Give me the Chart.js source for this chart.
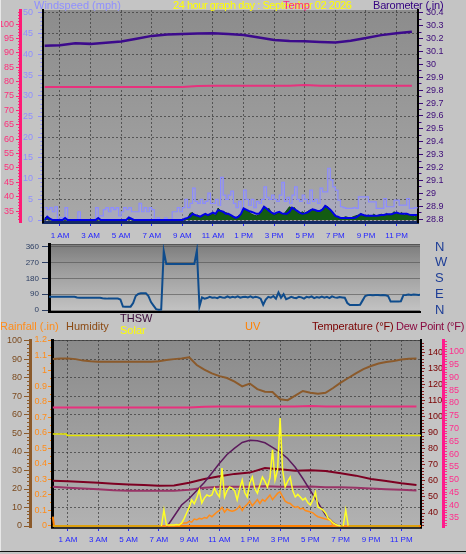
<!DOCTYPE html>
<html>
<head>
<meta charset="utf-8">
<script src="https://cdn.jsdelivr.net/npm/chart.js@4.4.1/dist/chart.umd.min.js"></script>
<style>
  body { margin: 0; background: #c4c4c4; }
  #wrap { position: relative; width: 466px; height: 554px; overflow: hidden; background: #c4c4c4;
          font-family: 'Liberation Sans', Arial, sans-serif; }
  canvas { position: absolute; left: 0; }
  .t { position: absolute; font-size: 11px; line-height: 11px; white-space: nowrap; }
</style>
</head>
<body>
<div id="wrap">
  <canvas id="topChart" width="466" height="246" style="top:0"></canvas>
  <canvas id="dirChart" width="466" height="76" style="top:240px"></canvas>
  <canvas id="botChart" width="466" height="238" style="top:316px"></canvas>

  <div class="t" style="left:34px;top:0;color:#8f8fff">Windspeed (mph)</div>
  <div class="t" style="left:173px;top:0;color:#ffff00;letter-spacing:-0.45px">24 hour graph day : September 02 2026</div>
  <div class="t" style="left:283px;top:0;color:#ff2288">Temp</div>
  <div class="t" style="left:373px;top:0;color:#330080;letter-spacing:-0.2px">Barometer (.in)</div>

  <div class="t" style="left:0;top:321px;color:#ff8c1a">Rainfall (.in)</div>
  <div class="t" style="left:66px;top:321px;color:#8b4a13">Humidity</div>
  <div class="t" style="left:120px;top:313px;color:#3a0a3a">THSW</div>
  <div class="t" style="left:120px;top:325px;color:#ffff00">Solar</div>
  <div class="t" style="left:245px;top:321px;color:#ff8000">UV</div>
  <div class="t" style="left:312px;top:321px;color:#7a0000;letter-spacing:-0.1px">Temperature (°F)</div>
  <div class="t" style="left:396px;top:321px;color:#8a0a40;letter-spacing:-0.25px">Dew Point (°F)</div>

  <div style="position:absolute;left:0;top:0;width:1px;height:552px;background:#e8e8e8"></div>
  <div style="position:absolute;left:0;top:551px;width:466px;height:1px;background:#101010"></div>
</div>

<script>
// ---- x axis (hours of the day) ----
const hourTicks = [1, 3, 5, 7, 9, 11, 13, 15, 17, 19, 21, 23];
const hourLabels = ['1 AM', '3 AM', '5 AM', '7 AM', '9 AM', '11 AM', '1 PM', '3 PM', '5 PM', '7 PM', '9 PM', '11 PM'];

// ---- tick labels ----
const pinkTicks = [35, 40, 45, 50, 55, 60, 65, 70, 75, 80, 85, 90, 95, 100];
const windTicks = [0, 5, 10, 15, 20, 25, 30, 35, 40, 45, 50];
const baroTicks = [28.8, 28.9, 29, 29.1, 29.2, 29.3, 29.4, 29.5, 29.6, 29.7, 29.8, 29.9, 30, 30.1, 30.2, 30.3, 30.4];
const dirTicks = [0, 90, 180, 270, 360];
const dirLabels = ['N', 'E', 'S', 'W', 'N'];
const humTicks = [0, 10, 20, 30, 40, 50, 60, 70, 80, 90, 100];
const rainTicks = [0, 0.1, 0.2, 0.3, 0.4, 0.5, 0.6, 0.7, 0.8, 0.9, 1, 1.1, 1.2];
const tempTicks = [40, 50, 60, 70, 80, 90, 100, 110, 120, 130, 140];
const dewTicks = [35, 40, 45, 50, 55, 60, 65, 70, 75, 80, 85, 90, 95, 100];

// ---- hourly series (0h .. 24h) ----
const barometer = [30.145, 30.150, 30.165, 30.160, 30.168, 30.178, 30.200, 30.222, 30.233, 30.237, 30.240, 30.243,
                   30.236, 30.228, 30.210, 30.190, 30.182, 30.180, 30.175, 30.170, 30.185, 30.205, 30.228, 30.242, 30.255];
const insideTemp = [78.15, 78.15, 78.15, 78.15, 78.15, 78.15, 78.15, 78.15, 78.15, 78.15, 78.5, 78.55, 78.55,
                    78.55, 78.55, 78.55, 78.55, 78.8, 78.55, 78.55, 78.55, 78.55, 78.55, 78.55, 78.55];
const temperature = [60.1, 59.8, 59.3, 58.8, 58.3, 57.8, 57.4, 57.0, 57.2, 58.9, 61.2, 62.9, 64.4,
                     65.2, 68.0, 67.3, 66.4, 66.6, 66.2, 64.8, 63.3, 61.2, 59.9, 58.5, 57.5];
const dewPoint = [47.2, 46.8, 46.5, 46.2, 45.8, 45.6, 45.6, 45.6, 45.6, 46.0, 46.8, 47.2, 47.2,
                  47.2, 47.4, 47.2, 47.2, 47.3, 47.0, 47.0, 46.8, 46.5, 46.2, 46.0, 45.7];

// ---- half-hourly series (0h .. 24h) ----
const humidity = [90.3, 90.5, 90.6, 90.2, 89.4, 89.0, 88.8, 88.8, 88.8, 88.8, 88.8, 88.8, 88.8, 88.8,
                  89.0, 89.7, 90.2, 90.6, 91.2, 87.0, 84.5, 82.5, 81.0, 80.0, 78.0, 75.5, 77.0, 74.0,
                  72.6, 72.4, 68.5, 68.0, 70.5, 73.0, 72.0, 71.5, 72.0, 74.6, 77.5, 80.0, 82.5, 84.8,
                  86.5, 87.8, 88.6, 89.2, 90.0, 90.4, 90.6];
const thsw = [null, null, null, null, null, null, null, null, null, null, null, null, null, null,
              26, 31, 38, 45, 49, 54, 59, 65, 71, 76.5, 80.5, 84, 85.3, 85, 83.8, 81, 78, 74,
              68.5, 61.5, 54, 46.5, 38.8, 34, 31, 27,
              null, null, null, null, null, null, null, null, null];

// ---- 10 minute series (six values per hour) ----
const windGust = [
  3, 2.5, 3, 2, 3.2, 0,        0.5, 0.5, 3, 0, 0, 0,        0, 2, 0, 0, 0, 0,            0, 0, 3, 1, 1, 2.5,
  3, 2, 3, 2.5, 3, 1,          2, 3, 2.5, 3, 2, 2,          2, 4, 2, 3, 2, 3,            2.5, 0, 0.5, 0, 0, 0.5,
  0, 0, 2, 2, 3, 2,            3, 5, 3, 4, 7.7, 4.5,        4, 5, 4, 4.5, 6.5, 4,        4, 5, 3.5, 10.3, 6, 5,
  6, 7, 4, 3, 4.5, 2.5,        7.2, 5, 3.5, 5, 3, 4.5,      4, 5, 8, 5.5, 5, 6,          5, 4.5, 6, 9.1, 4.5, 5.5,
  4, 6, 8, 5, 4.5, 6,          5, 4, 7.2, 4.5, 5, 4,        7.7, 6.8, 6.8, 12.5, 9.7, 8, 7.2, 4.8, 3.2, 3, 2.8, 2.8,
  2.8, 3, 2.8, 5.6, 5.6, 5.6,  5.6, 4.4, 4.4, 4.4, 2.8, 2.8, 2.8, 5.2, 3.2, 3.2, 3.2, 4.8, 4.8, 3.6, 3.6, 3.6, 5.2, 2.8,
  2.8, 3, 2.8
];
const windAvg = [
  0, 0.8, 0.3, 0, 0, 0,        0, 0, 0.5, 0, 0, 0,          0, 0, 0, 0, 0, 0,            0, 0, 0, 0.5, 0, 0,
  0, 0, 0, 0, 0, 0,            0, 0, 0, 0.6, 0.3, 0,        0, 0, 0, 0, 0, 0,            0, 0, 0, 0, 0, 0,
  0, 0, 0, 0, 0, 0,            0, 0.3, 0.5, 0.8, 1.5, 1.2,  1, 0.8, 1.2, 1.5, 1.2, 1.5,  1.8, 1.5, 2.4, 2.2, 2, 1.5,
  1.5, 1.2, 0.8, 0.5, 0.8, 1.5, 2.8, 2.5, 2.2, 2, 1.8, 1.5,  1.5, 2.2, 3.2, 2.8, 2.2, 1.8, 1.5, 1.8, 2, 1.6, 1.5, 1.5,
  2, 3, 2.6, 2.2, 1.8, 1.5,    1.6, 1.8, 2.2, 2.6, 2.4, 2.2, 2.2, 2.6, 3.4, 3, 2.5, 1.8, 1, 0.8, 0.5, 0.5, 0.5, 0.5,
  0.5, 0.5, 0.6, 1, 1.4, 1.2,  1, 1, 1, 1, 1, 1.1,          1.2, 1.2, 1.4, 1.4, 1.4, 1.6, 1.8, 1.6, 1.5, 1.5, 1.5, 1.3,
  1.2, 1.2, 1.2
];
const windSpeed = [
  0.5, 0.8, 0, 0, 0, 0,        0, 0, 0, 0, 0, 0,            0, 0, 0, 0, 0, 0,            0, 0, 0, 0, 0, 0,
  0, 0, 0, 0, 0, 0,            0, 0, 0, 0.4, 0, 0,          0, 0, 0, 0, 0, 0,            0, 0, 0, 0, 0, 0,
  0, 0, 0, 0, 0, 0,            0, 0, 0.3, 1.6, 1.8, 1,      1.2, 0.8, 1, 1.4, 1, 1.2,    1.6, 1, 2.9, 2.2, 2, 1.8,
  1.5, 1, 0.6, 0.5, 1, 1.2,    2.8, 2.4, 2, 1.5, 1.2, 1,    1.2, 2, 3, 2.5, 2.8, 1.6,    1.2, 1.5, 1.8, 1.4, 1.6, 2.4,
  3.2, 2.8, 3, 1.8, 1.5, 2,    1.6, 2, 2.4, 2.6, 2.3, 2,    2.2, 2.8, 3.4, 3.2, 2.4, 1.6, 1, 0.6, 0.4, 0.5, 0.8, 0.6,
  0.5, 0.8, 1, 1.2, 1.6, 1,    1, 1.2, 0.8, 1.4, 1, 1.2,    1.4, 1, 1.6, 1.2, 1.4, 2,    1.6, 1.4, 1.8, 1.2, 1.5, 1.2,
  1, 0.8, 1
];
const windDir = [
  76, 76, 76, 76, 76, 76,      76, 76, 76, 76, 76, 72,      70, 70, 70, 70, 70, 70,      70, 70, 70, 67, 66, 65,
  65, 65, 65, 65, 60, 20,      19, 19, 19, 40, 80, 92,      95, 95, 95, 80, 45, 25,      5, 2, 3, 337, 263, 263,
  263, 263, 263, 263, 263, 263, 263, 263, 263, 263, 340, 20, 72, 65, 68, 75, 70, 72,     68, 75, 72, 70, 78, 70,
  75, 72, 78, 70, 74, 76,      72, 78, 70, 76, 72, 65,      30, 60, 75, 70, 80, 65,      100, 70, 90, 62, 68, 75,
  70, 68, 76, 72, 65, 75,      72, 78, 68, 74, 70, 76,      70, 75, 68, 78, 72, 70,      74, 72, 70, 40, 28, 28,
  28, 28, 30, 55, 80, 85,      86, 84, 86, 85, 84, 86,      84, 80, 48, 48, 48, 48,      50, 85, 86, 88, 86, 88,
  87, 86, 88
];
const solar = [
  0, 0, 0, 0, 0, 0,  0, 0, 0, 0, 0, 0,  0, 0, 0, 0, 0, 0,  0, 0, 0, 0, 0, 0,  0, 0, 0, 0, 0, 0,  0, 0, 0, 0, 0, 0,
  0, 0, 0, 0, 0, 0,
  0, 0, 86, 5, 5, 5,            5, 8, 5, 15, 40, 70,          100, 140, 120, 150, 194, 124,  150, 167, 160, 167, 204, 175,
  156, 312, 156, 190, 210, 204, 190, 140, 200, 247, 180, 156, 230, 263, 200, 177, 220, 263,  240, 210, 260, 409, 247, 300,
  580, 301, 210, 240, 263, 190, 156, 170, 156, 140, 150, 125, 113, 140, 183, 102, 95, 86,    70, 43, 30, 16, 8, 3,
  0, 0, 86, 0, 0, 0,
  0, 0, 0, 0, 0, 0,  0, 0, 0, 0, 0, 0,  0, 0, 0, 0, 0, 0,  0, 0, 0, 0, 0, 0,  0, 0
];
const uvIndex = [
  0, 0, 0, 0, 0, 0,  0, 0, 0, 0, 0, 0,  0, 0, 0, 0, 0, 0,  0, 0, 0, 0, 0, 0,  0, 0, 0, 0, 0, 0,  0, 0, 0, 0, 0, 0,
  0, 0, 0, 0, 0, 0,  0, 0, 0, 0, 0, 0,
  0, 0.05, 0.1, 0.15, 0.2, 0.2,  0.3, 0.25, 0.45, 0.4, 0.5, 0.45,  0.55, 0.5, 0.7, 0.6, 0.75, 0.9,
  1.0, 1.2, 0.9, 1.1, 1.0, 0.95,  1.0, 1.1, 1.3, 1.0, 1.25, 1.4,   1.6, 1.3, 1.5, 1.7, 1.45, 1.7,
  1.6, 1.8, 2.0, 1.7, 1.9, 2.1,   2.2, 1.9, 1.6, 1.5, 1.45, 1.3,   1.2, 1.25, 1.1, 1.15, 1.0, 0.95,
  0.9, 0.85, 0.7, 0.6, 0.55, 0.5, 0.45, 0.4, 0.38, 0, 0, 0,
  0, 0, 0, 0, 0, 0,  0, 0, 0, 0, 0, 0,  0, 0, 0, 0, 0, 0,  0, 0, 0, 0, 0, 0,  0, 0, 0, 0, 0, 0,  0, 0
];

// ---- irregular series (hour, value) ----
const rainHours = [0, 0.08, 24.3];
const rainfall = [0.06, 0, 0];
const yellowHours = [0, 0.9, 0.95, 24.3];
const yellowLine = [89.2, 89.2, 88.3, 88.3];

// ---------------------------------------------------------------
const FONT = "'Liberation Sans', Arial, sans-serif";
const GRID = 'rgba(55,55,55,0.7)';
const near = (a, b) => Math.abs(a - b) < 1e-6;
const isIn = (list, v) => list.some(m => near(m, v));

function everyStep(from, to, step) {
  const out = [];
  for (let v = from; v <= to + 1e-9; v += step) out.push({ value: Math.round(v * 1000) / 1000 });
  return out;
}
const series = (values, stepH) => values.map((v, i) => ({ x: i * stepH, y: v }));
const pairs = (hours, values) => hours.map((h, i) => ({ x: h, y: values[i] }));

function yAxis(o) {
  const left = o.position === 'left';
  return {
    type: 'linear', position: o.position, weight: o.weight, min: o.min, max: o.max,
    afterBuildTicks: s => {
      s.ticks = o.minor ? everyStep(o.minor[0], o.minor[1], o.minor[2]) : o.major.map(v => ({ value: v }));
    },
    afterFit: s => { s.width = o.width; s.paddingTop = 0; s.paddingBottom = 0; },
    ticks: {
      color: o.color, padding: o.pad, autoSkip: false,
      font: { family: FONT, size: o.size || 9 },
      callback: v => {
        const i = o.major.findIndex(m => near(m, v));
        return i < 0 ? '' : (o.labels ? o.labels[i] : String(o.major[i]));
      }
    },
    grid: {
      drawOnChartArea: !!o.grid,
      drawTicks: o.tickLen > 0,
      tickLength: o.tickLen || 0,
      tickColor: o.tickColor || o.color,
      color: c => (o.grid && c.tick && isIn(o.major, c.tick.value)) ? o.grid : 'rgba(0,0,0,0)',
      tickBorderDash: c => (c.tick && isIn(o.major, c.tick.value)) ? [] :
        (left ? [0, o.tickLen * 0.5, 50] : [o.tickLen * 0.5, 50])
    },
    border: { display: !!o.border, color: o.border, width: o.borderWidth || 1, dash: o.dash || [] }
  };
}

function xAxis(o) {
  return {
    type: 'linear', position: 'bottom', min: o.min, max: o.max,
    afterBuildTicks: s => { s.ticks = hourTicks.map(v => ({ value: v })); },
    afterFit: s => { s.height = o.height; s.paddingLeft = 0; s.paddingRight = 0; },
    ticks: {
      display: o.labels, color: '#2424ff', padding: o.pad || 4, maxRotation: 0, autoSkip: false,
      font: { family: FONT, size: 8 },
      callback: (v, i) => hourLabels[i]
    },
    grid: { drawOnChartArea: o.grid, drawTicks: o.labels, color: GRID, tickColor: '#2424ff', tickLength: 4 },
    border: { color: o.borderColor, width: o.borderWidth, dash: [2, 2] }
  };
}

function plotBackground(stops, edge) {
  return {
    id: 'plotBg',
    beforeDraw(chart) {
      const { ctx, chartArea: a } = chart;
      const g = ctx.createLinearGradient(0, a.top, 0, a.bottom);
      stops.forEach(([p, c]) => g.addColorStop(p, c));
      ctx.save();
      ctx.fillStyle = g;
      ctx.fillRect(a.left, a.top, a.right - a.left, a.bottom - a.top);
      if (edge) { ctx.fillStyle = edge; ctx.fillRect(a.left, a.top, a.right - a.left, 1); }
      ctx.restore();
    }
  };
}

const common = {
  responsive: false, animation: false, events: [],
  elements: { point: { radius: 0 }, line: { tension: 0 } },
  plugins: { legend: { display: false }, tooltip: { enabled: false } }
};

// ---------------- top panel: wind speed, barometer ----------------
new Chart(document.getElementById('topChart'), {
  type: 'line',
  data: {
    datasets: [
      { data: series(barometer, 1), yAxisID: 'yBaro', borderColor: '#3c0a8c', borderWidth: 2.5 },
      { data: series(insideTemp, 1), yAxisID: 'yPink', borderColor: '#e8317d', borderWidth: 2 },
      { data: series(windAvg, 1 / 6), yAxisID: 'yWind', borderColor: '#0000e6', borderWidth: 2 },
      { data: series(windSpeed, 1 / 6), yAxisID: 'yWind', borderColor: '#0c4a0c', backgroundColor: '#135c13',
        fill: 'origin', borderWidth: 1 },
      { data: series(windGust, 1 / 6), yAxisID: 'yWind', borderColor: '#8c8cff', backgroundColor: 'rgba(175,175,235,0.3)',
        fill: 'origin', borderWidth: 1.2, stepped: true }
    ]
  },
  options: {
    ...common,
    layout: { padding: { top: 10, left: 0, right: 0, bottom: 0 } },
    scales: {
      x: xAxis({ min: -0.11, max: 24.4, height: 24, labels: true, grid: true, pad: 5,
                 borderColor: '#142a66', borderWidth: 3 }),
      yPink: yAxis({ position: 'left', weight: 2, width: 20, min: 31.2, max: 104.9, major: pinkTicks,
                     minor: [32, 104, 1], color: '#ff2d7a', tickLen: 4, pad: 2, border: '#ff1a75', borderWidth: 3 }),
      yWind: yAxis({ position: 'left', weight: 1, width: 23, min: -0.48, max: 50.72, major: windTicks,
                     minor: [0, 50, 1], color: '#8f8fff', tickLen: 5, pad: 5, border: '#000000', borderWidth: 2,
                     grid: GRID, dash: [2, 2] }),
      yBaro: yAxis({ position: 'right', weight: 1, width: 48, min: 28.777, max: 30.423, major: baroTicks,
                     minor: [28.8, 30.4, 0.05], color: '#3c0a78', tickLen: 5, pad: 3, border: '#000000', borderWidth: 2 })
    }
  },
  plugins: [plotBackground([[0, '#8c8c8c'], [1, '#a8a8a8']])]
});

// ---------------- middle panel: wind direction ----------------
new Chart(document.getElementById('dirChart'), {
  type: 'line',
  data: {
    datasets: [
      { data: series(windDir, 1 / 6), yAxisID: 'yDir', borderColor: '#0f4c8c', borderWidth: 2 }
    ]
  },
  options: {
    ...common,
    layout: { padding: { top: 4, left: 0, right: 0, bottom: 0 } },
    scales: {
      x: xAxis({ min: 0, max: 24.25, height: 4, labels: false, grid: false, borderColor: '#000000', borderWidth: 2 }),
      yDir: yAxis({ position: 'left', weight: 1, width: 49, min: -11.4, max: 377, major: dirTicks,
                    color: '#2c3e63', size: 8, tickLen: 7, pad: 3, border: '#000000', borderWidth: 3,
                    grid: 'rgba(80,80,80,0.6)' }),
      yDirR: yAxis({ position: 'right', weight: 1, width: 46, min: -11.4, max: 377, major: dirTicks,
                     labels: dirLabels, color: '#1d3d96', size: 13, tickLen: 0, pad: 15 })
    }
  },
  plugins: [plotBackground([[0, '#7c7c7c'], [0.35, '#9a9a9a'], [1, '#c4c4c4']], '#555555')]
});

// ---------------- bottom panel: temperature, humidity, rain, solar, UV ----------------
const nightGold = c => (c.p0.parsed.y === 0 && c.p1.parsed.y === 0) ? '#d0a810' : undefined;

new Chart(document.getElementById('botChart'), {
  type: 'line',
  data: {
    datasets: [
      { data: series(solar, 1 / 6), yAxisID: 'ySolar', borderColor: '#ffff26', borderWidth: 1.5,
        segment: { borderColor: nightGold } },
      { data: series(uvIndex, 1 / 6), yAxisID: 'yUV', borderColor: '#ff8c1a', borderWidth: 1.5 },
      { data: series(thsw, 0.5), yAxisID: 'yTemp', borderColor: '#5c1a5c', borderWidth: 1.5 },
      { data: series(temperature, 1), yAxisID: 'yTemp', borderColor: '#7d0022', borderWidth: 2 },
      { data: series(dewPoint, 1), yAxisID: 'yDew', borderColor: '#993366', borderWidth: 2 },
      { data: series(insideTemp, 1), yAxisID: 'yDew', borderColor: '#e8317d', borderWidth: 2 },
      { data: series(humidity, 0.5), yAxisID: 'yHum', borderColor: '#8b5a2b', borderWidth: 2 },
      { data: pairs(yellowHours, yellowLine), yAxisID: 'yTemp', borderColor: '#e6e600', borderWidth: 1.5 },
      { data: pairs(rainHours, rainfall), yAxisID: 'yRain', borderColor: '#ff8000', borderWidth: 2 }
    ]
  },
  options: {
    ...common,
    layout: { padding: { top: 24, left: 0, right: 0, bottom: 0 } },
    scales: {
      x: xAxis({ min: -0.053, max: 24.3, height: 27, labels: true, grid: true, pad: 4,
                 borderColor: '#303030', borderWidth: 3 }),
      yHum: yAxis({ position: 'left', weight: 2, width: 30, min: -0.54, max: 100.54, major: humTicks,
                    minor: [0, 100, 2], color: '#7b4a1e', tickColor: '#8b5a2b', tickLen: 6, pad: 2,
                    border: '#8b5a2b', borderWidth: 3, grid: GRID, dash: [2, 2] }),
      yRain: yAxis({ position: 'left', weight: 1, width: 22, min: -0.0065, max: 1.2, major: rainTicks,
                     minor: [0, 1.2, 0.05], color: '#ff8c1a', tickLen: 4, pad: 1, border: '#000000', borderWidth: 3 }),
      yTemp: yAxis({ position: 'right', weight: 1, width: 22, min: 31.27, max: 147.9, major: tempTicks,
                     minor: [32, 146, 2], color: '#7a0000', tickColor: '#8a2020', tickLen: 4, pad: 3,
                     border: '#000000', borderWidth: 2 }),
      yDew: yAxis({ position: 'right', weight: 2, width: 23, min: 31.48, max: 104.57, major: dewTicks,
                    minor: [32, 104, 1], color: '#ff2d8c', tickLen: 4, pad: 2, border: '#ff1a8c', borderWidth: 3 }),
      ySolar: { type: 'linear', display: false, min: -5.4, max: 1000 },
      yUV: { type: 'linear', display: false, min: -0.065, max: 12 }
    }
  },
  plugins: [plotBackground([[0, '#8a8a8a'], [1, '#b2b2b2']], '#505050')]
});
</script>
</body>
</html>
